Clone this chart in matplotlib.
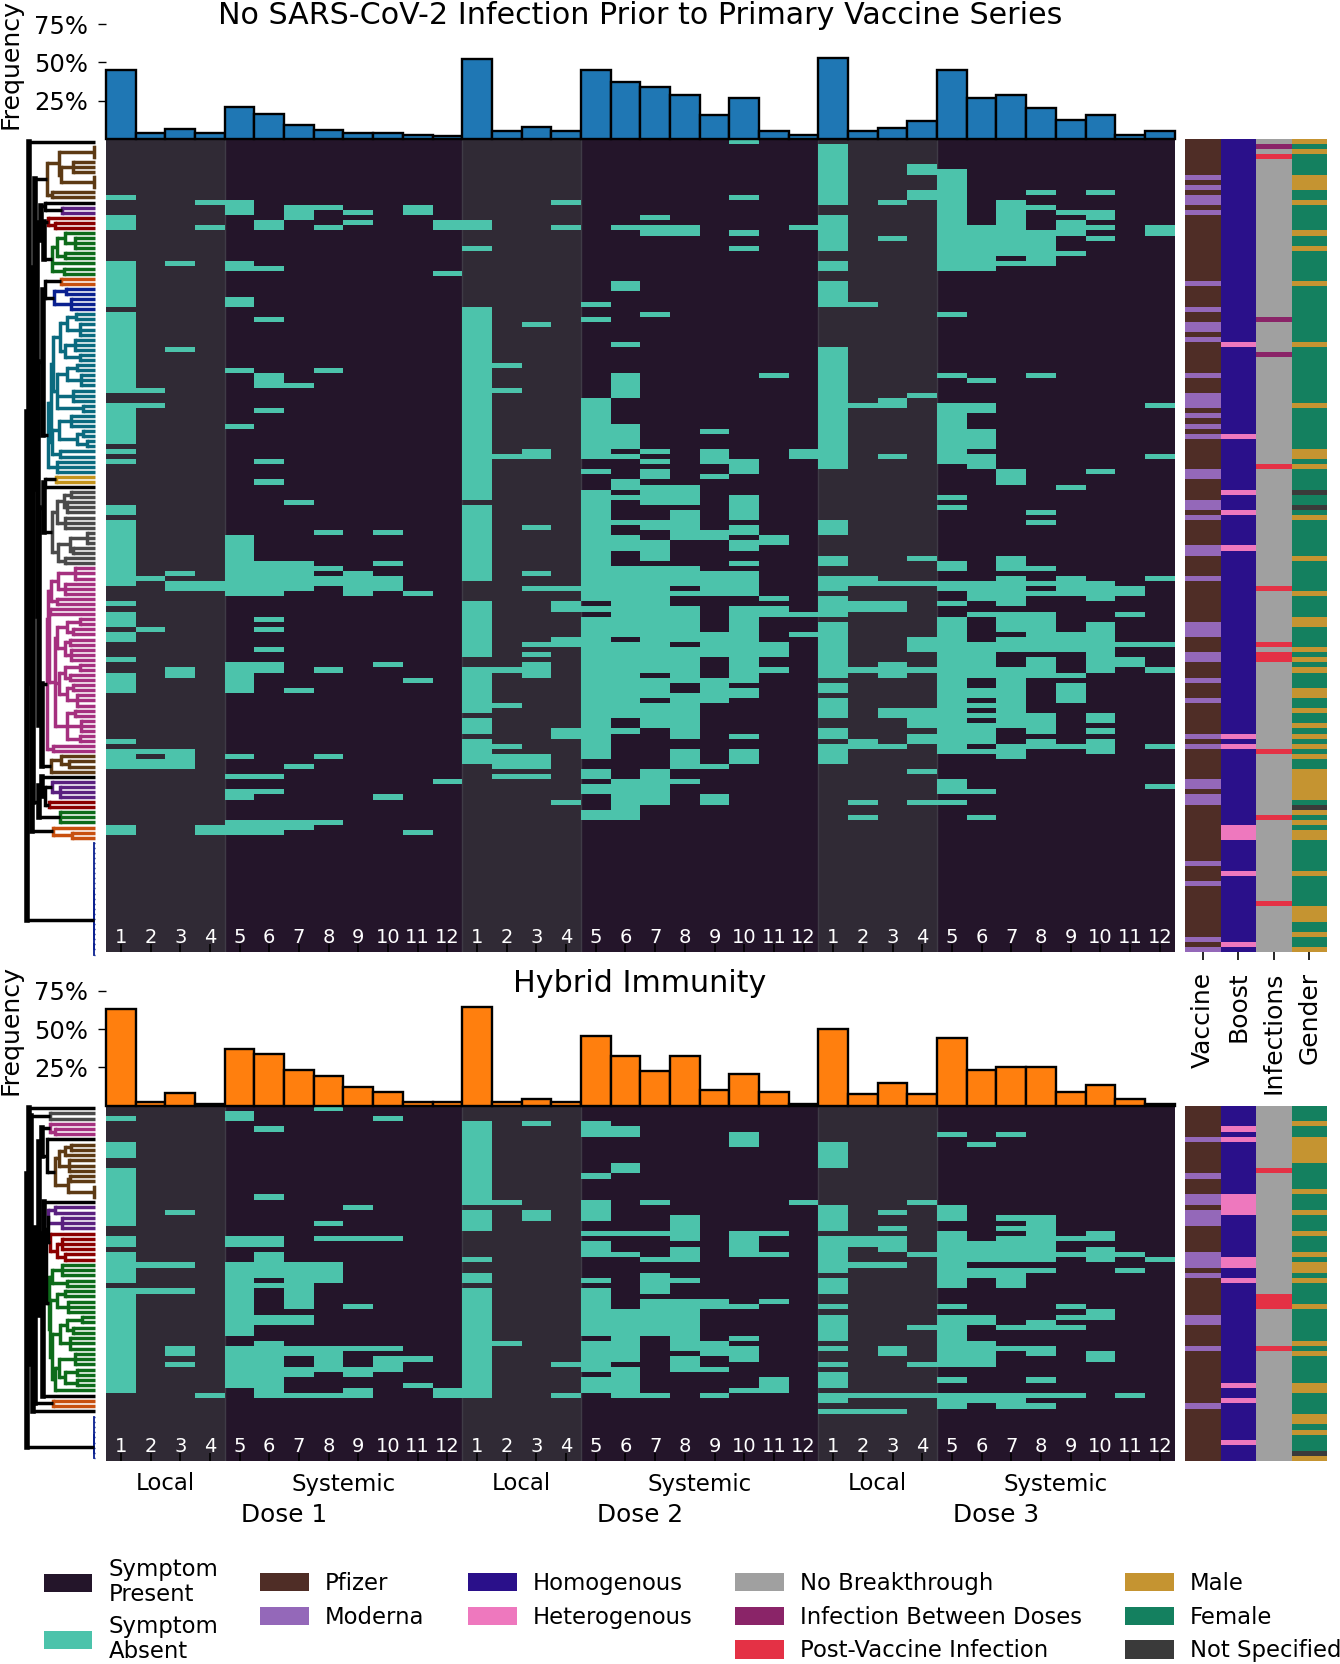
import numpy as np
import matplotlib
matplotlib.use("Agg")
import matplotlib.pyplot as plt
from matplotlib.colors import ListedColormap
from matplotlib.patches import Patch
from matplotlib.transforms import blended_transform_factory

W, H = 1340, 1664

# ---------- data ----------
symptoms = [str(i) for i in range(1, 13)]
dose_labels = ["Dose 1", "Dose 2", "Dose 3"]
n_top, n_bot = 160, 68

freq_top = [45, 3.9, 6.3, 3.7, 21, 16.5, 9.2, 6, 4, 4, 2.8, 1.7,
            52.4, 4.9, 7.8, 4.9, 44.8, 37.2, 33.9, 28.9, 15.4, 26.5, 5.2, 2.6,
            52.6, 5.5, 7.5, 11.7, 44.8, 26.7, 28.7, 20.2, 12.2, 15.9, 2.8, 5]
freq_bot = [63, 2.6, 8.4, 1.3, 37, 34, 23.5, 19, 12, 8.7, 2.6, 2.6,
            64.6, 2.6, 4.3, 2.6, 45.4, 32.6, 22.4, 32.6, 10.4, 20.6, 8.8, 1.3,
            50, 7.3, 14.7, 7.3, 44.1, 23.5, 25, 25, 8.8, 13.2, 4.4, 1.3]

top_dose1 = ["11 15-17 24-32 34-49 52-59 61 63 72-73 75-87 91 93-95 97-98 102 105-108 118 120-123 135-136",
             "49 52 86 96 120 122-123",
             "24 41 85 87-88 104-105 120-123",
             "12 17 87-88 135-136",
             "12-14 24-25 31-32 45 56 78-89 103-108 121 125 128-129 134-136",
             "16-17 25 35 46-48 53 63 67 83-89 94 96 100 103-104 125 128 134-136",
             "13-15 48 71 83-88 108 123 134-135",
             "13 17 45 77 84 86-87 104 121 134",
             "14 16 85-89",
             "77 83 86-88 103 129",
             "13-14 89 106 136",
             "16-17 26 126"]
top_dose2 = ["16-17 21 33-70 72-86 91-101 104-112 114-116 118-122",
             "44 49 62 104 111 119 121-123 125",
             "36 61-62 76 85 88 99 101 103-105 121-123 125",
             "12 17 88 91-92 98-99 116-117 130",
             "32 35 51-62 65 69-90 92 94-121 124-125 127-128 132-133",
             "17 28-29 40 46-50 56-60 62 67-68 70 75 78-80 84-97 99-113 116 126-133",
             "15 17-18 34 61 63 65-66 68-71 75-76 79-82 84-104 106-109 111-115 124-130",
             "17-18 68-71 73-78 84-87 89 92-98 100-106 109-117 120-123 126",
             "57 61-63 66 77-78 85-89 97-101 106-110 123 129-130",
             "0 11 18 21 63-65 70-74 76-77 79-80 83 85-89 92-106 108-109 117 120-122",
             "46 78-79 90 92-93 99-101 104",
             "17 61-62 93 97"]
top_dose3 = ["1-12 15-21 24-25 28-32 41-64 75-77 82-83 86-88 90-93 95-105 107-108 110-113 116-117 119-122",
             "32 52 86-87 91-92 104 118-119 130 133",
             "12 19 51-52 62 87 91-92 103-105 112-113 119",
             "5-6 10-11 50 82 87 98-100 104 112-115 117-118 124 130",
             "6-25 34 46 52-63 70 72 83-84 87-88 91 94-120 126-128 130",
             "17-25 47 52-53 57-60 62-64 87-90 93 99-105 108-109 111 113 115-118 120 128 133",
             "12-22 24 65-67 82-84 86-91 93-96 98-100 104-115 119-121",
             "10 13 18-24 46 73 75 84 87 89 93-100 102-105 113-116 118-119",
             "14 16-18 22 68 86-89 97-100 105 107-110 119",
             "10 14-15 17 19 65 87-90 95-104 113-114 116 118-120",
             "88-89 93 99 102-103",
             "17-18 52 62 86 99 104 119 127"]

bot_dose1 = ["2 7-9 12-22 25-26 28-33 35-54",
             "30 35",
             "20 30 35 46-47 49",
             "55",
             "1-2 25-26 30-43 46-53",
             "4 17 25-26 28-32 34 40-41 45-55",
             "30-38 40-41 46-47 50-51 55",
             "0 22 25 30-33 46-50 55",
             "19 25 38 46 50-51 54-55",
             "2 25 46 48-50",
             "48 53",
             "54-55"]
bot_dose2 = ["3-18 20-23 29 32-33 35-55",
             "18 45",
             "3 20-21",
             "49 55",
             "3-5 13 18-21 24 26-28 33 35-43 45-50 52-54",
             "4-5 11-12 24 28 39-48 50-55",
             "18 24 29 32-35 37-43 55",
             "21-25 27-29 33 37-46 48-50",
             "37-38 45-47 50 55",
             "5-7 24-28 38 44 46-48 54",
             "24 28 37 52-54",
             "18"]
bot_dose3 = ["7-11 19-23 25-31 33-35 38 40-44 46 49 51-53 55-56 58",
             "25-26 30 55 58",
             "20 23 25-27 30 46-47 55 58",
             "18 28 42 49 55",
             "5 19-21 24-34 38 40-49 52 55-57",
             "7 26-29 31-32 40-41 45-49 55-56",
             "5 21 23 25-29 31-34 42 46 55-57",
             "21-29 31 41-42 46-47 52 55 57",
             "25 28 38 40 42 55",
             "24-25 27-29 39-40 47-48",
             "28 31 55",
             "29"]

side_names = ["Vaccine", "Boost", "Infections", "Gender"]

top_moderna = "7 9 11-12 14 28 33 36-37 39 46 50-52 54 56 58 65-66 71-72 74 80-81 86 95-97 101-102 106 110 117 119 126-127 129-130 142 146 157 159"
top_hetero = "40 58 69 73 80 117 119 135-137 144 158"
top_between = "1 35 42"
top_post = "3 64 88 99 101-102 120 133 150"
top_male = "0 2 7-9 12 18 21 28 40 52 61-62 64 74 82 89 94-95 100 102 104 108-109 112 115 117 119 121 124-129 132 134 136-137 144 151-153 156 159"
top_unspec = "69 72 131"

bot_moderna = "6 13 17-18 20-22 28-30 32 40-41 46 57"
bot_hetero = "4 6 17-20 29-30 33 53 56 64"
bot_between = ""
bot_post = "12 36-38 46"
bot_male = "3 6-10 16 20 24 28 30-31 33 38 45 47 53-54 59-60 62 67"
bot_unspec = "66"

# dendrogram trees: [distance, child, child, ...]; L is a leaf; (colour, node) is a coloured cluster
L = 0
BR, PU, RE, GR, OR, BL, TE, GO, GY, MA = ("#5d3a14", "#5a2080", "#8b0000", "#0d6b1a", "#c8500f",
                                          "#0a2090", "#0a6a7f", "#c4941c", "#4a4a4a", "#a5307f")
t1 = [35, [28, [19, L, L], [15, L, L, L]], [30, [20, L, L, L], [15, L, L]]]
t2 = [38, [28, [18, L, L], [14, L, L, L]], [22, L, L, L], [12, L, L]]
t3 = [36, [24, L, L, L], [18, [12, L, L], [8, L, L]]]
t4 = [35, L, L]
t5 = [38, L, L, L]
m1 = [44, [37, [20, L, L, L], [30, L, L, L]], [38, L, L]]
m2 = [45, L, L]
m3 = [38, [28, [15, L, L], [22, L, L]], [30, [25, L, L], [24, L, L, L]]]
m4 = [36, [30, [15, L, L], [25, L, L]], [28, [22, L, L], [18, L, L, L]]]
m5 = [28, [20, L, L], [14, L, L, L], [15, L, L]]
m6 = [42, L, L]
brown1 = (BR, [48, [36, [1, L, L, L], [34, [22, L, L, L], [1, L, L, L]]], [43, L, L]])
purple1 = (PU, [33, L, L])
red1 = (RE, [47, L, [40, L, L]])
green1 = (GR, [43, [38, [30, L, [20, L, L, L]], [30, L, L]], L, [31, L, L]])
orange1 = (OR, [34, L, L])
blue1 = (BL, [41, [29, L, L], [24, L, L, L]])
teal1 = (TE, [47, [44, [42, t1, t2], [43, t3, t4]], t5])
gold1 = (GO, [39, L, L])
gray1 = (GY, [43, [38, [31, [24, L, L], [28, L, L, L]], [30, L, L, L]],
              [37, [25, [8, L, L, L], [22, L, L]], [30, L, L]]])
magenta1 = (MA, [48, [47, m1, [46, m2, [40, m3, m4, m5]]], m6])
brown2 = (BR, [44, [34, L, [26, L, L]], L])
purple2 = (PU, [43, L, [35, L, L, L]])
red2 = (RE, [46, L, L])
green2 = (GR, [35, L, L, L])
orange2 = (OR, [42, L, [23, L, L]])
zero1 = (BL, [0.7, [0.7] + [L] * 20, [0.7, L, L, L]])
tree_top = [67.7,
            [65.7, L,
             [62.7,
              [61.7,
               [60, brown1,
                [58.5,
                 [54, [50, L, purple1], [51, red1, green1]],
                 [57,
                  [52.5, [50, orange1, blue1], teal1],
                  [56, [51, [50, gold1, L], gray1], [53, magenta1, brown2]]]]],
               [55.7, [53.5, L, [50, purple2, red2]], green2]],
              orange2]],
            zero1]

g1 = [43, [33, L, L, L], [28, L, L]]
g2 = [38, [30, L, L], [27, L, L, L]]
g3 = [35, [28, [13, L, L], [22, L, L]], [25, L, L, L]]
g4 = [36, [20, L, L, L], [30, [18, L, L], [18, L, L]]]
b_gray = (GY, [45, L, L])
b_mag = (MA, [45, L, [40, L, L]])
b_brown = (BR, [40, [36, [30, [24, L, L], L], [26, L, L, L]], [27, [25, L, L], [1, L, L, L]]])
b_purple = (PU, [47, [40, L, L], [33, L, L, L]])
b_red = (RE, [45, L, [38, [33, L, L, L], [30, L, L]]])
b_green = (GR, [46, g1, [45, g2, [43, g3, [40, g4, L]]]])
b_orange = (OR, [42, L, L])
b_zero = (BL, [0.7, [0.7] + [L] * 8, L])
tree_bot = [67.7,
            [65.7, L,
             [64, b_gray,
              [62,
               [60,
                [56,
                 [53, b_mag, [48, L, b_brown]],
                 [52, [51, L, [49.5, [47, b_purple, b_red], b_green]], L]],
                b_orange],
               L]]],
            b_zero]

# ---------- style ----------
C_PRESENT, C_ABSENT, C_LOCAL = "#24152a", "#4cc3ab", "#302a35"
SIDE_COLORS = ["#4f2d26", "#9468b9", "#2a108a", "#ee78be", "#a0a0a0",
               "#8a2468", "#e43145", "#c59431", "#14805f", "#3a3a3a"]
plt.rcParams["font.family"] = "DejaVu Sans"


def rows(spec):
    out = []
    for tok in spec.split():
        if "-" in tok:
            a, b = tok.split("-")
            out.extend(range(int(a), int(b) + 1))
        else:
            out.append(int(tok))
    return out


def matrix(columns, n):
    m = np.zeros((n, len(columns)))
    for j, spec in enumerate(columns):
        m[rows(spec), j] = 1
    return m


def px_axes(fig, x0, y0, x1, y1):
    return fig.add_axes([x0 / W, 1 - y1 / H, (x1 - x0) / W, (y1 - y0) / H])


def draw_heat(ax, m):
    n = m.shape[0]
    ax.set_facecolor(C_PRESENT)
    for d in range(3):
        ax.axvspan(12 * d, 12 * d + 4, color=C_LOCAL, lw=0, zorder=0)
        ax.axvline(12 * d + 4, color="#3f3b46", lw=1, zorder=0.5)
        if d:
            ax.axvline(12 * d, color="#3f3b46", lw=1, zorder=0.5)
    cmap = ListedColormap([C_ABSENT])
    ax.pcolormesh(np.arange(37), np.arange(n + 1), np.ma.masked_equal(m, 0),
                  cmap=cmap, zorder=1, linewidth=0, rasterized=True)
    ax.set_xlim(0, 36)
    ax.set_ylim(n, 0)
    ax.set_yticks([])
    ax.set_xticks(np.arange(36) + 0.5)
    ax.set_xticklabels(symptoms * 3, color="white", fontsize=14)
    ax.tick_params(axis="x", direction="in", length=5.8, width=1.2, color="black", pad=-17)
    ax.tick_params(axis="x", zorder=5)
    for s in ax.spines.values():
        s.set_visible(False)


def draw_bars(ax, vals, color):
    ax.bar(np.arange(36) + 0.5, vals, width=1, color=color, edgecolor="black", linewidth=1.7, clip_on=False)
    ax.set_xlim(0, 36)
    ax.set_ylim(0, 75)
    ax.set_yticks([25, 50, 75])
    ax.set_yticklabels(["25%", "50%", "75%"], fontsize=17.5)
    ax.tick_params(axis="y", length=5.8, width=1, pad=7)
    ax.set_xticks([])
    for s in ax.spines.values():
        s.set_visible(False)
    ax.patch.set_alpha(0)


def side_matrix(n, moderna, hetero, between, post, male, unspec):
    m = np.zeros((n, 4), dtype=int)
    m[:, 0] = 0
    m[rows(moderna), 0] = 1
    m[:, 1] = 2
    m[rows(hetero), 1] = 3
    m[:, 2] = 4
    m[rows(between), 2] = 5
    m[rows(post), 2] = 6
    m[:, 3] = 8
    m[rows(male), 3] = 7
    m[rows(unspec), 3] = 9
    return m


def draw_side(ax, m):
    n = m.shape[0]
    ax.pcolormesh(np.arange(5), np.arange(n + 1), m, cmap=ListedColormap(SIDE_COLORS),
                  vmin=-0.5, vmax=9.5, linewidth=0, rasterized=True)
    ax.set_ylim(n, 0)
    ax.set_xlim(0, 4)
    ax.set_yticks([])
    ax.set_xticks([])
    for s in ax.spines.values():
        s.set_visible(False)


def draw_tree(ax, tree):
    counter = [0]

    def walk(node, color):
        if isinstance(node, tuple):
            return walk(node[1], node[0])
        if isinstance(node, int) and node == 0:
            p = counter[0] + 0.5
            counter[0] += 1
            return p, 0.0
        d = node[0]
        kids = [walk(k, color) for k in node[1:]]
        ps = [k[0] for k in kids]
        thin = d < 1
        lw_h = 1.0 if thin else 2.5
        lw_v = 1.3 if thin else (4.0 if (color == "black" and d >= 51) else 2.5)
        for p, kd in kids:
            ax.plot([kd, d], [p, p], color=color, lw=lw_h, solid_capstyle="butt", clip_on=False)
        ax.plot([d, d], [ps[0], ps[-1]], color=color, lw=lw_v, solid_capstyle="projecting", clip_on=False)
        return (ps[0] + ps[-1]) / 2, d

    walk(tree, "black")
    ax.set_xlim(75, 0)
    ax.axis("off")
    return counter[0]


# ---------- figure ----------
fig = plt.figure(figsize=(W / 100, H / 100), dpi=100, facecolor="white")
X0, X1 = 106, 1174.6
SX0, SX1 = 1185, 1327
DX0, DX1 = 20, 95
T = dict(bar0=24, heat0=139, heat1=952)
B = dict(bar0=991, heat0=1105.5, heat1=1461)

# top panel
ax = px_axes(fig, X0, T["heat0"], X1, T["heat1"])
draw_heat(ax, matrix(top_dose1 + top_dose2 + top_dose3, n_top))
ax = px_axes(fig, X0, T["bar0"], X1, T["heat0"])
draw_bars(ax, freq_top, "#1f77b4")
ax = px_axes(fig, DX0, T["heat0"], DX1, T["heat1"])
draw_tree(ax, tree_top)
ax.set_ylim(n_top, 0)
ax = px_axes(fig, SX0, T["heat0"], SX1, T["heat1"])
draw_side(ax, side_matrix(n_top, top_moderna, top_hetero, top_between, top_post, top_male, top_unspec))
ax.set_xticks(np.arange(4) + 0.5)
ax.set_xticklabels(side_names, rotation=90, fontsize=18, va="top", ha="center")
ax.tick_params(axis="x", length=6, width=1.2, pad=8)

# bottom panel
ax = px_axes(fig, X0, B["heat0"], X1, B["heat1"])
draw_heat(ax, matrix(bot_dose1 + bot_dose2 + bot_dose3, n_bot))
tr = blended_transform_factory(ax.transData, fig.transFigure)
for d in range(3):
    ax.text(12 * d + 2, 1 - 1484 / H, "Local", transform=tr, ha="center", va="center", fontsize=16.5)
    ax.text(12 * d + 8, 1 - 1484 / H, "Systemic", transform=tr, ha="center", va="center", fontsize=16.5)
    ax.text(12 * d + 6, 1 - 1515 / H, dose_labels[d], transform=tr, ha="center", va="center", fontsize=17.8)
ax = px_axes(fig, X0, B["bar0"], X1, B["heat0"])
draw_bars(ax, freq_bot, "#ff7f0e")
ax = px_axes(fig, DX0, B["heat0"], DX1, B["heat1"])
draw_tree(ax, tree_bot)
ax.set_ylim(n_bot, 0)
ax = px_axes(fig, SX0, B["heat0"], SX1, B["heat1"])
draw_side(ax, side_matrix(n_bot, bot_moderna, bot_hetero, bot_between, bot_post, bot_male, bot_unspec))

# titles and axis names
fig.text(640 / W, 1 - 16 / H, "No SARS-CoV-2 Infection Prior to Primary Vaccine Series",
         ha="center", va="center", fontsize=21.7)
fig.text(640 / W, 1 - 983 / H, "Hybrid Immunity", ha="center", va="center", fontsize=21.7)
fig.text(11 / W, 1 - 64 / H, "Frequency", rotation=90, ha="center", va="center", fontsize=18.2)
fig.text(11 / W, 1 - 1030 / H, "Frequency", rotation=90, ha="center", va="center", fontsize=18.2)


# legends
def legend(x, y, items, spacing=0.47):
    handles = [Patch(facecolor=c, edgecolor="none", label=t) for t, c in items]
    leg = fig.legend(handles=handles, loc="upper left", bbox_to_anchor=(x / W, 1 - y / H),
                     bbox_transform=fig.transFigure, frameon=False, fontsize=16.35,
                     handlelength=2.15, handleheight=0.85, handletextpad=0.72,
                     labelspacing=spacing, borderpad=0, borderaxespad=0)
    for t in leg.get_texts():
        t.set_linespacing(1.1)


legend(43.5, 1558, [("Symptom\nPresent", C_PRESENT), ("Symptom\nAbsent", C_ABSENT)], spacing=0.42)
legend(260, 1572, [("Pfizer", SIDE_COLORS[0]), ("Moderna", SIDE_COLORS[1])])
legend(468, 1572, [("Homogenous", SIDE_COLORS[2]), ("Heterogenous", SIDE_COLORS[3])])
legend(735, 1572, [("No Breakthrough", SIDE_COLORS[4]), ("Infection Between Doses", SIDE_COLORS[5]),
                   ("Post-Vaccine Infection", SIDE_COLORS[6])])
legend(1125, 1572, [("Male", SIDE_COLORS[7]), ("Female", SIDE_COLORS[8]), ("Not Specified", SIDE_COLORS[9])])

fig.savefig("out.png", dpi=100, facecolor="white")
